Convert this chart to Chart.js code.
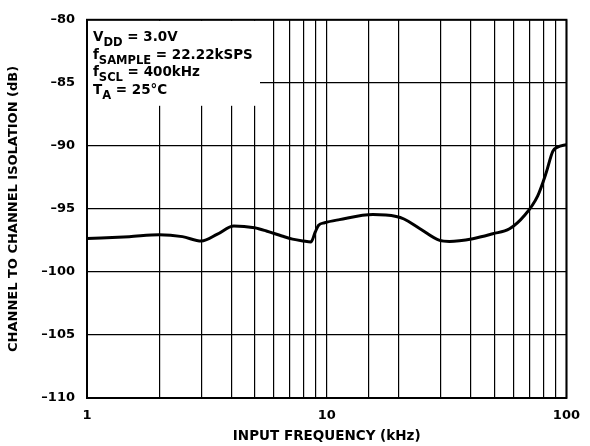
<!DOCTYPE html>
<html><head><meta charset="utf-8">
<script src="https://cdn.jsdelivr.net/npm/chart.js@4/dist/chart.umd.min.js"></script>
<style>html,body{margin:0;padding:0;background:#fff}#wrap{width:590px;height:446px}</style>
</head><body><div id="wrap"><canvas id="c"></canvas></div>
<script>
const freqKHz = [1, 1.5, 2, 2.5, 3, 3.5, 4.1, 5, 5.6, 6.5, 7.2, 8, 8.6, 8.95, 9.25, 9.8, 11.3, 15.6, 19.5, 21, 24.4, 29.6, 32.5, 40.7, 49.3, 57.9, 66.8, 75.9, 82.3, 87.7, 91.8, 100];
const isolationDb = [-97.35, -97.2, -97.05, -97.2, -97.55, -97.0, -96.35, -96.5, -96.75, -97.15, -97.4, -97.55, -97.62, -96.85, -96.3, -96.1, -95.85, -95.45, -95.6, -95.8, -96.55, -97.5, -97.58, -97.36, -96.97, -96.58, -95.53, -93.96, -92.14, -90.44, -90.1, -89.9];
const xTickLabels = [1, 10, 100];
const yTicks = [-110, -105, -100, -95, -90, -85, -80];
const noteLines = [["V", "DD", " = 3.0V"], ["f", "SAMPLE", " = 22.22kSPS"], ["f", "SCL", " = 400kHz"], ["T", "A", " = 25°C"]];

const FONT = "'DejaVu Sans', 'Liberation Sans', Arial, sans-serif";
const fmt = v => (v < 0 ? "\u2013" + Math.abs(v) : String(v));

const notePlugin = {
  id: 'note',
  beforeDatasetsDraw(chart) {
    const {ctx, chartArea: a} = chart;
    ctx.save();
    ctx.fillStyle = '#fff';
    ctx.fillRect(a.left + 1, a.top + 1, 172, 85);
    ctx.fillStyle = '#000';
    ctx.textBaseline = 'alphabetic';
    let y = a.top + 21;
    for (const [main, sub, rest] of noteLines) {
      let x = a.left + 6;
      ctx.font = "bold 13.5px " + FONT;
      ctx.fillText(main, x, y); x += ctx.measureText(main).width;
      ctx.font = "bold 11.5px " + FONT;
      ctx.fillText(sub, x, y + 5); x += ctx.measureText(sub).width;
      ctx.font = "bold 13.5px " + FONT;
      ctx.fillText(rest, x, y);
      y += 17.8;
    }
    ctx.restore();
  },
  afterDatasetsDraw(chart) {
    const {ctx, chartArea: a} = chart;
    ctx.save();
    ctx.strokeStyle = '#000';
    ctx.lineWidth = 2;
    ctx.strokeRect(a.left, a.top, a.right - a.left, a.bottom - a.top);
    ctx.restore();
  }
};

new Chart(document.getElementById('c'), {
  type: 'line',
  data: {
    datasets: [{
      data: freqKHz.map((f, i) => ({x: f, y: isolationDb[i]})),
      borderColor: '#000',
      borderWidth: 3,
      pointRadius: 0,
      cubicInterpolationMode: 'monotone',
      fill: false
    }]
  },
  options: {
    responsive: true,
    maintainAspectRatio: false,
    animation: false,
    events: [],
    layout: {padding: {left: 0, right: 23, top: 15, bottom: 0}},
    plugins: {legend: {display: false}, tooltip: {enabled: false}},
    scales: {
      x: {
        type: 'logarithmic',
        min: 1, max: 100,
        afterFit(s) { s.height = 48; },
        grid: {color: '#000', lineWidth: 1.2, drawTicks: false},
        border: {display: false},
        ticks: {
          autoSkip: false, maxRotation: 0, padding: 10,
          color: '#000', font: {family: FONT, size: 13, weight: 'bold'},
          callback: v => xTickLabels.includes(v) ? String(v) : ''
        },
        title: {display: true, text: 'INPUT FREQUENCY (kHz)', color: '#000',
          font: {family: FONT, size: 13.5, weight: 'bold'}, padding: {top: 0, bottom: 1}}
      },
      y: {
        min: -110, max: -80,
        afterFit(s) { s.width = 87; },
        afterBuildTicks(s) { s.ticks = yTicks.map(v => ({value: v})); },
        grid: {color: '#000', lineWidth: 1.2, drawTicks: false},
        border: {display: false},
        ticks: {padding: 12, color: '#000', font: {family: FONT, size: 13, weight: 'bold'}, callback: v => fmt(v)},
        title: {display: true, text: 'CHANNEL TO CHANNEL ISOLATION (dB)', color: '#000',
          font: {family: FONT, size: 13, weight: 'bold'}, padding: {top: 6, bottom: 0}}
      }
    }
  },
  plugins: [notePlugin]
});
</script></body></html>
